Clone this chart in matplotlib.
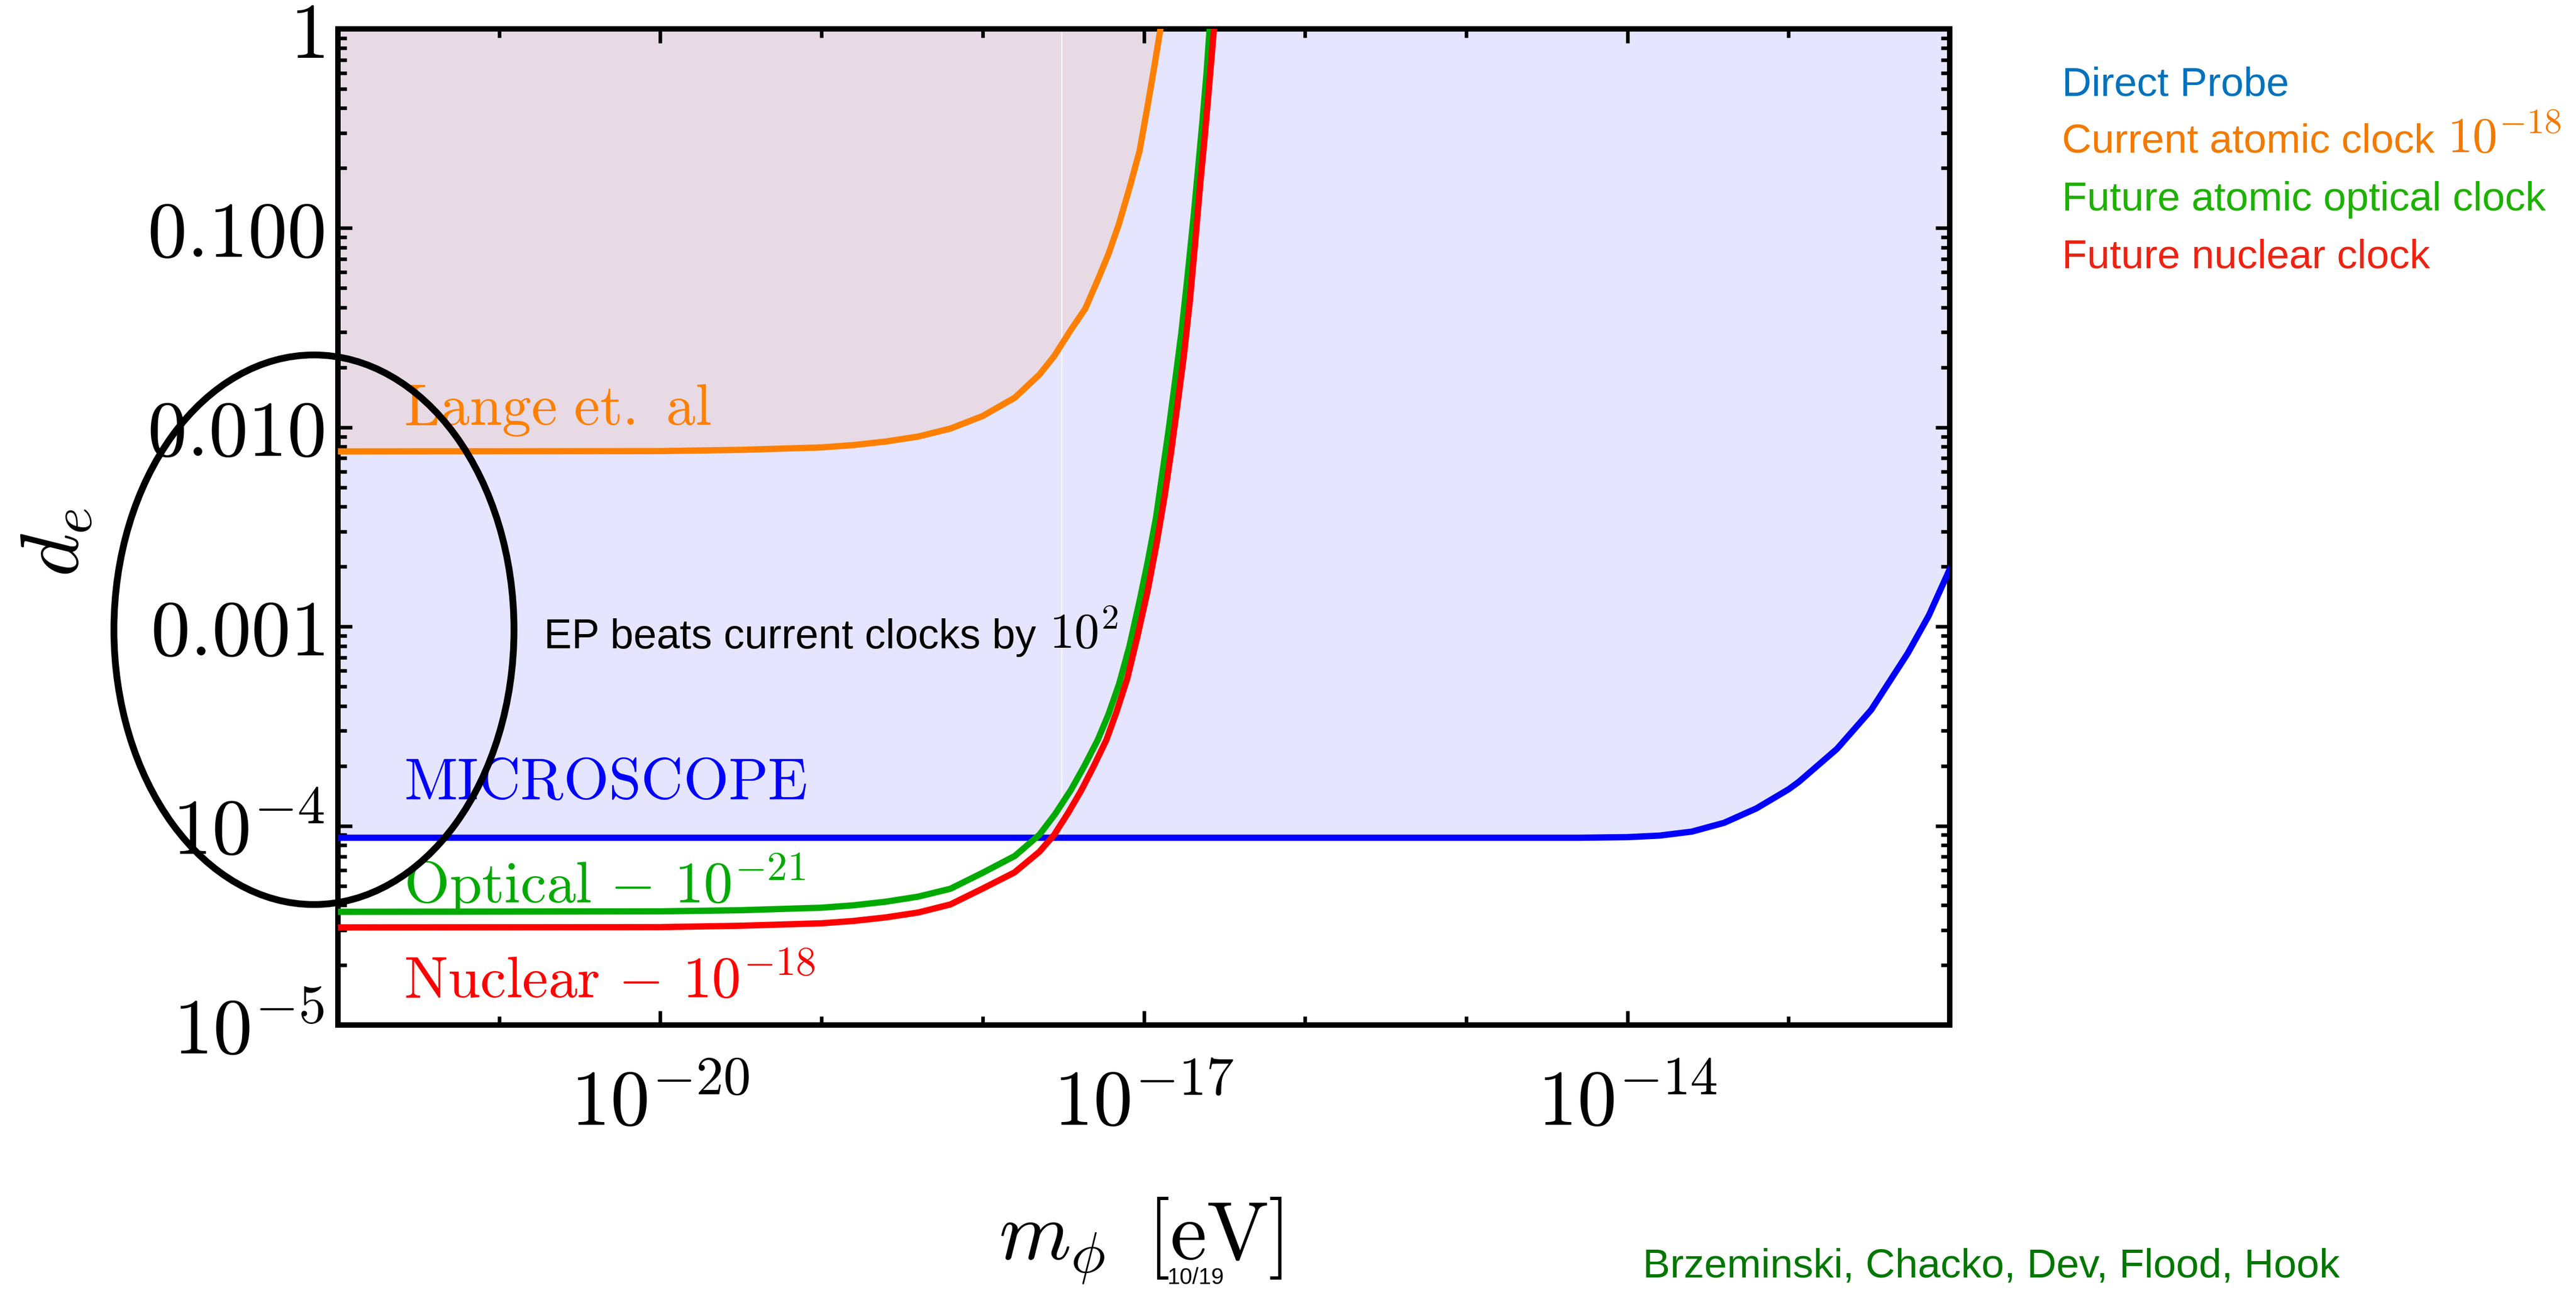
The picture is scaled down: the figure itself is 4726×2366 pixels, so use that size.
import matplotlib
matplotlib.use("Agg")
import matplotlib.pyplot as plt
from matplotlib.patches import Ellipse
from matplotlib.ticker import FixedLocator, FixedFormatter, LogLocator, NullFormatter

plt.rcParams['mathtext.fontset'] = 'cm'
plt.rcParams['font.family'] = ['Liberation Sans', 'DejaVu Sans']

# ---- bounds on d_e versus scalar mass m_phi [eV] ----
# MICROSCOPE (direct probe)
micro_m = [1e-22, 5.01e-15, 1e-14, 1.585e-14, 2.512e-14, 3.981e-14, 6.31e-14, 1e-13,
           1.156e-13, 1.995e-13, 3.258e-13, 5.495e-13, 7.413e-13, 1e-12]
micro_d = [8.71e-5, 8.71e-5, 8.77e-5, 8.93e-5, 9.35e-5, 1.035e-4, 1.222e-4, 1.524e-4,
           1.66e-4, 2.43e-4, 3.82e-4, 7.35e-4, 1.135e-3, 1.94e-3]

# current atomic clocks (Lange et al.)
lange_m = [1e-22, 1e-20, 3.16e-20, 1e-19, 1.585e-19, 2.51e-19, 3.98e-19, 6.31e-19, 1e-18,
           1.585e-18, 2.25e-18, 2.78e-18, 3.53e-18, 4.33e-18, 5.18e-18, 6.03e-18, 7.01e-18,
           8.13e-18, 9.42e-18, 1.059e-17, 1.161e-17, 1.268e-17]
lange_d = [7.57e-3, 7.60e-3, 7.71e-3, 7.93e-3, 8.15e-3, 8.49e-3, 8.99e-3, 9.86e-3, 1.14e-2,
           1.41e-2, 1.84e-2, 2.28e-2, 3.09e-2, 3.94e-2, 5.5e-2, 7.4e-2, 0.105,
           0.158, 0.245, 0.417, 0.645, 1.0]

# future optical clock, 1e-21
optical_m = [1e-22, 1e-20, 3.16e-20, 1e-19, 1.585e-19, 2.51e-19, 3.98e-19, 6.31e-19, 1e-18,
             1.585e-18, 2.25e-18, 2.818e-18, 3.53e-18, 4.266e-18, 5.18e-18, 6.03e-18, 7.01e-18,
             8.13e-18, 9.42e-18, 1.059e-17, 1.191e-17, 1.303e-17, 1.426e-17, 1.585e-17,
             1.706e-17, 1.862e-17, 2.042e-17, 2.188e-17, 2.312e-17, 2.455e-17, 2.559e-17]
optical_d = [3.70e-5, 3.72e-5, 3.77e-5, 3.88e-5, 3.99e-5, 4.16e-5, 4.41e-5, 4.83e-5, 5.81e-5,
             7.06e-5, 9.02e-5, 1.146e-4, 1.514e-4, 1.99e-4, 2.70e-4, 3.62e-4, 5.13e-4,
             7.93e-4, 1.35e-3, 2.13e-3, 3.53e-3, 5.87e-3, 9.75e-3, 1.86e-2,
             2.94e-2, 5.61e-2, 0.117, 0.213, 0.346, 0.615, 1.0]

# future nuclear clock, 1e-18
nuclear_m = [1e-22, 1e-20, 3.16e-20, 1e-19, 1.585e-19, 2.51e-19, 3.98e-19, 6.31e-19, 1e-18,
             1.574e-18, 2.25e-18, 2.78e-18, 3.39e-18, 4.10e-18, 4.90e-18, 5.86e-18, 6.76e-18,
             7.89e-18, 9.12e-18, 1.059e-17, 1.202e-17, 1.349e-17, 1.479e-17, 1.614e-17,
             1.778e-17, 1.932e-17, 2.089e-17, 2.239e-17, 2.382e-17, 2.518e-17, 2.723e-17]
nuclear_d = [3.09e-5, 3.10e-5, 3.15e-5, 3.24e-5, 3.33e-5, 3.47e-5, 3.67e-5, 4.03e-5, 4.84e-5,
             5.83e-5, 7.41e-5, 9.02e-5, 1.16e-4, 1.51e-4, 2.0e-4, 2.70e-4, 3.72e-4,
             5.47e-4, 8.9e-4, 1.53e-3, 2.63e-3, 4.57e-3, 7.59e-3, 1.28e-2,
             2.34e-2, 4.34e-2, 8.7e-2, 0.167, 0.282, 0.470, 1.0]

# tick values and labels
x_major = [1e-20, 1e-17, 1e-14]
x_major_labels = [r"$10^{-20}$", r"$10^{-17}$", r"$10^{-14}$"]
x_minor = [1e-22, 1e-21, 1e-19, 1e-18, 1e-16, 1e-15, 1e-13, 1e-12]
y_major = [1e-5, 1e-4, 1e-3, 1e-2, 1e-1, 1.0]
y_major_labels = [r"$10^{-5}$", r"$10^{-4}$", r"$0.001$", r"$0.010$", r"$0.100$", r"$1$"]

# seam between the two filled regions
seam_m = 3.09e-18

W, H = 4726, 2366
fig = plt.figure(figsize=(W / 100, H / 100), dpi=100)
renderer = fig.canvas.get_renderer()


def fx(px):
    return px / W


def fy(py):
    return 1 - py / H


def text_then_math(x, y, plain, math, color, size, math_size, gap=24):
    """Sans-serif text followed by a larger Computer Modern power of ten."""
    t = fig.text(fx(x), fy(y), plain, color=color, size=size, va='baseline')
    bb = t.get_window_extent(renderer)
    fig.text((bb.x1 + gap) / W, fy(y), math, color=color, size=math_size, va='baseline')


ax_l, ax_r, ax_t, ax_b = 620, 3577, 53, 1880
ax = fig.add_axes([fx(ax_l), fy(ax_b), fx(ax_r - ax_l), (ax_b - ax_t) / H])
ax.set_xscale('log')
ax.set_yscale('log')
ax.set_xlim(1e-22, 1e-12)
ax.set_ylim(1e-5, 1)

# excluded regions
ax.fill_between(micro_m, micro_d, 1.0, color=(0, 0, 1), alpha=0.10, lw=0, zorder=1)
ax.fill_between(lange_m, lange_d, 1.0, color='#FF8000', alpha=0.10, lw=0, zorder=1.1)
ax.plot([seam_m, seam_m], [micro_d[0] * 1.04, 1.0], color='white', lw=1.6, alpha=0.8, zorder=1.2)

lw = 8.3
ax.plot(lange_m, lange_d, color='#FF8000', lw=lw, zorder=3)
ax.plot(micro_m, micro_d, color='#0000FF', lw=lw, zorder=3)
ax.plot(optical_m, optical_d, color='#00AA00', lw=lw, zorder=3)
ax.plot(nuclear_m, nuclear_d, color='#FF0000', lw=lw, zorder=3.1)

# axes styling
for s in ax.spines.values():
    s.set_linewidth(7.2)
ax.xaxis.set_major_locator(FixedLocator(x_major))
ax.xaxis.set_major_formatter(FixedFormatter(x_major_labels))
ax.xaxis.set_minor_locator(FixedLocator(x_minor))
ax.xaxis.set_minor_formatter(NullFormatter())
ax.yaxis.set_major_locator(FixedLocator(y_major))
ax.yaxis.set_major_formatter(FixedFormatter(y_major_labels))
ax.yaxis.set_minor_locator(LogLocator(base=10, subs=[2, 3, 4, 5, 6, 7, 8, 9], numticks=20))
ax.yaxis.set_minor_formatter(NullFormatter())
ax.tick_params(which='both', direction='in', top=True, right=True, width=4.7)
ax.tick_params(which='major', length=18.7)
ax.tick_params(which='minor', length=11.5)
ax.tick_params(axis='x', which='major', labelsize=104, pad=57)
ax.tick_params(axis='y', which='major', labelsize=104, pad=18)

# curve labels
lab_x = 741
lab_size = 77
fig.text(fx(lab_x), fy(779), r"$\mathrm{Lange\ et.\ al}$", color='#FF8000', size=lab_size, va='baseline')
fig.text(fx(lab_x), fy(1465), r"$\mathrm{MICROSCOPE}$", color='#0000FF', size=lab_size, va='baseline')
fig.text(fx(lab_x), fy(1656), r"$\mathrm{Optical}\,-\,10^{-21}$", color='#00AA00', size=lab_size, va='baseline')
fig.text(fx(lab_x), fy(1830), r"$\mathrm{Nuclear}\,-\,10^{-18}$", color='#FF0000', size=lab_size, va='baseline')

text_then_math(998, 1189, "EP beats current clocks by", r"$10^{2}$", 'black', 55, 66)

# highlight around the low-mass end of the y axis
ell = Ellipse((fx(576), fy(1155)), width=734 / W, height=1008 / H, transform=fig.transFigure,
              fill=False, edgecolor='black', lw=9.0, zorder=20, clip_on=False)
fig.add_artist(ell)

# axis labels
fig.text(fx(104), fy(995), r"$d_e$", size=109, rotation=90, ha='center', va='center')
fig.text(fx(2092), fy(2310), r"$m_\phi\ \,[\mathrm{eV}]$", size=109, ha='center', va='baseline')
fig.text(fx(2142), fy(2355), "10/19", size=30, va='baseline')

# legend
leg_x = 3783
leg_size = 54
fig.text(fx(leg_x), fy(175), "Direct Probe", color='#0072BD', size=leg_size, va='baseline')
text_then_math(leg_x, 280, "Current atomic clock", r"$10^{-18}$", '#F27A00', leg_size, 66)
fig.text(fx(leg_x), fy(386), "Future atomic optical clock", color='#1DB100', size=leg_size, va='baseline')
fig.text(fx(leg_x), fy(491), "Future nuclear clock", color='#EE2211', size=leg_size, va='baseline')

fig.text(fx(3014), fy(2342), "Brzeminski, Chacko, Dev, Flood, Hook", color='#007700', size=54, va='baseline')

fig.savefig("out.png", dpi=100, facecolor='white')
